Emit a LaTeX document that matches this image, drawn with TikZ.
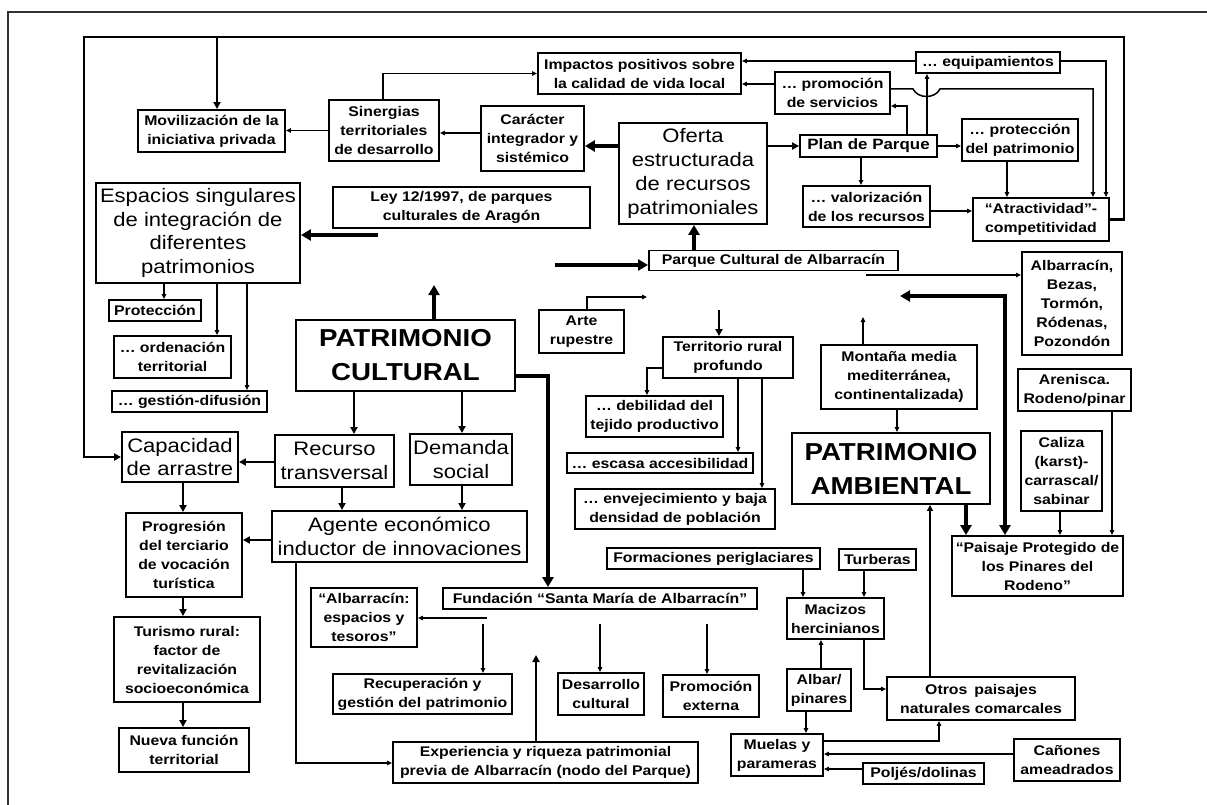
\documentclass[tikz,border=0pt]{standalone}
\usepackage{fontspec}
\setmainfont{Liberation Sans}[FakeStretch=1.13]
\usetikzlibrary{arrows.meta}
\newcommand\fsm{\fontsize{14}{19}\selectfont\bfseries}
\newcommand\flg{\fontsize{19.5}{23.7}\selectfont}
\newcommand\fhg{\fontsize{24.5}{34}\selectfont\bfseries}
\tikzset{
  bx/.style={draw, line width=1.9pt, inner sep=0pt, align=center, font=\fsm},
  bl/.style={bx, font=\flg},
  bh/.style={bx, font=\fhg},
  ln/.style={line width=1.5pt},
  a/.style={ln, -{Triangle[length=5pt,width=4.5pt]}},
  am/.style={line width=2.2pt, -{Triangle[length=7pt,width=7pt]}},
  ak/.style={line width=3.5pt, -{Triangle[length=10pt,width=11pt]}},
  lp/.style={line width=2.6pt, -{Triangle[length=7pt,width=7pt]}},
}
\begin{document}
\begin{tikzpicture}[x=1pt,y=-1pt]
\useasboundingbox (0,0) rectangle (1207,805);
% frame
\draw[line width=2pt, draw=black!80] (8,805) -- (8,12) -- (1207,12);

% nodes
\node[bx, minimum width=147, minimum height=42] (mov) at (211.5,131) {Movilización de la\\iniciativa privada};
\node[bx, minimum width=110, minimum height=61] (sin) at (384,130.5) {Sinergias\\territoriales\\de desarrollo};
\node[bx, minimum width=203, minimum height=41] (imp) at (639.5,73.5) {Impactos positivos sobre\\la calidad de vida local};
\node[bx, minimum width=103, minimum height=65] (car) at (532.5,138.5) {Carácter\\integrador y\\sistémico};
\node[bl, minimum width=148, minimum height=101] (ofe) at (693,173.5) {Oferta\\estructurada\\de recursos\\patrimoniales};
\node[bx, minimum width=257, minimum height=41] (ley) at (461.5,207.5) {Ley 12/1997, de parques\\culturales de Aragón};
\node[bl, minimum width=204, minimum height=100] (esp) at (198,233) {Espacios singulares\\de integración de\\diferentes\\patrimonios};
\node[bx, minimum width=249, minimum height=20] (par) at (773.5,260.5) {Parque Cultural de Albarracín};
\node[bx, minimum width=144, minimum height=21] (equ) at (988,62.5) {… equipamientos};
\node[bx, minimum width=115, minimum height=42] (pro) at (832.5,93) {… promoción\\de servicios};
\node[bx, minimum width=137, minimum height=22, font=\fontsize{15}{19}\selectfont\bfseries] (plan) at (868.5,146) {Plan de Parque};
\node[bx, minimum width=116, minimum height=42] (prot) at (1020,140) {… protección\\del patrimonio};
\node[bx, minimum width=127, minimum height=41] (val) at (866.5,206.5) {… valorización\\de los recursos};
\node[bx, minimum width=136, minimum height=43] (atr) at (1041,219.5) {“Atractividad”-\\competitividad};
\node[bx, minimum width=100, minimum height=103] (alb) at (1072,303.5) {Albarracín,\\Bezas,\\Tormón,\\Ródenas,\\Pozondón};
\node[bx, minimum width=156, minimum height=64] (mon) at (899,377) {Montaña media\\mediterránea,\\continentalizada)};
\node[bh, minimum width=198, minimum height=71] (pam) at (891,468.5) {PATRIMONIO\\AMBIENTAL};
\node[bx, minimum width=113, minimum height=42] (are) at (1074.5,390) {Arenisca.\\Rodeno/pinar};
\node[bx, minimum width=81, minimum height=80] (cal) at (1061.5,471) {Caliza\\(karst)-\\carrascal/\\sabinar};
\node[bx, minimum width=171, minimum height=60] (pai) at (1037.5,566) {“Paisaje Protegido de\\los Pinares del\\Rodeno”};
\node[bx, minimum width=77, minimum height=21] (tur) at (877.5,559.5) {Turberas};
\node[bx, minimum width=213, minimum height=21] (for) at (713.5,558.5) {Formaciones periglaciares};
\node[bx, minimum width=97, minimum height=41] (mac) at (835.5,618.5) {Macizos\\hercinianos};
\node[bx, minimum width=64, minimum height=42] (albar) at (819,690) {Albar/\\pinares};
\node[bx, minimum width=92, minimum height=42] (mue) at (777,755) {Muelas y\\parameras};
\node[bx, minimum width=188, minimum height=43] (otr) at (981,698.5) {Otros\enspace paisajes\\naturales comarcales};
\node[bx, minimum width=106, minimum height=42] (can) at (1067,760) {Cañones\\ameadrados};
\node[bx, minimum width=121, minimum height=21] (pol) at (923.5,773.5) {Poljés/dolinas};
\node[bx, minimum width=314, minimum height=21] (fun) at (600,598.5) {Fundación “Santa María de Albarracín”};
\node[bx, minimum width=106, minimum height=59] (aes) at (364,617.5) {“Albarracín:\\espacios y\\tesoros”};
\node[bx, minimum width=179, minimum height=40] (rec) at (422.5,694) {Recuperación y\\gestión del patrimonio};
\node[bx, minimum width=86, minimum height=42] (des) at (601,694) {Desarrollo\\cultural};
\node[bx, minimum width=96, minimum height=42] (pex) at (711,696) {Promoción\\externa};
\node[bx, minimum width=305, minimum height=41] (exp) at (545.5,762.5) {Experiencia y riqueza patrimonial\\previa de Albarracín (nodo del Parque)};
\node[bh, minimum width=219, minimum height=71] (pc) at (405.5,355.5) {PATRIMONIO\\CULTURAL};
\node[bl, minimum width=119, minimum height=52] (rtr) at (334.5,461) {Recurso\\transversal};
\node[bl, minimum width=102, minimum height=51] (dem) at (461,459.5) {Demanda\\social};
\node[bl, minimum width=255, minimum height=51] (age) at (399.5,536.5) {Agente económico\\inductor de innovaciones};
\node[bl, minimum width=116, minimum height=50] (cap) at (180,457) {Capacidad\\de arrastre};
\node[bx, minimum width=116, minimum height=84] (prg) at (184,555) {Progresión\\del terciario\\de vocación\\turística};
\node[bx, minimum width=146, minimum height=85] (tru) at (187,659.5) {Turismo rural:\\factor de\\revitalización\\socioeconómica};
\node[bx, minimum width=130, minimum height=44] (nue) at (184,750) {Nueva función\\territorial};
\node[bx, minimum width=92, minimum height=21] (prc) at (155,310.5) {Protección};
\node[bx, minimum width=117, minimum height=42] (ord) at (172.5,357) {… ordenación\\territorial};
\node[bx, minimum width=155, minimum height=21] (ges) at (189.5,401.5) {… gestión-difusión};
\node[bx, minimum width=85, minimum height=43] (art) at (581.5,331.5) {Arte\\rupestre};
\node[bx, minimum width=130, minimum height=41] (ter) at (728,357.5) {Territorio rural\\profundo};
\node[bx, minimum width=137, minimum height=41] (deb) at (654.5,416.5) {… debilidad del\\tejido productivo};
\node[bx, minimum width=186, minimum height=20] (esc) at (660,463) {… escasa accesibilidad};
\node[bx, minimum width=200, minimum height=40] (env) at (675,509) {… envejecimiento y baja\\densidad de población};

% free ends
\coordinate (leyend) at (378,235);
\coordinate (parin) at (555,265);
\coordinate (pcup) at (434,285);
\coordinate (parout) at (866,275);
\coordinate (ambleft) at (900,296);
\coordinate (monup) at (863,317);
\coordinate (artend) at (647,297);
\coordinate (terin) at (719,310);
\coordinate (funl) at (487,618);
\coordinate (fun1) at (483,624);
\coordinate (fun2) at (600,624);
\coordinate (fun3) at (707,624);
\coordinate (expup) at (536,655);

% big loop
\draw[lp] (atr.east) -| (1124,37) -| (84,0 |- cap.west) -- (cap.west);
\draw[lp] (217,37) -- (217,0 |- mov.north);

% top area
\draw[a] (sin.west) -- (sin.west -| mov.east);
\draw[a] (383,0 |- sin.north) |- (imp.west);
\draw[a] (car.west |- 0,133) -- (sin.east |- 0,133);
\draw[ak] (ofe.west |- 0,146) -- (car.east |- 0,146);
\draw[am] (ofe.east |- 0,146) -- (plan.west);
\draw[ak] (694,0 |- par.north) -- (694,0 |- ofe.south);
\draw[ak] (parin) -- (par.west |- parin);
\draw[ak] (leyend) -- (esp.east |- leyend);
\draw[ak] (434,0 |- pc.north) -- (pcup);
\draw[a] (equ.west |- 0,61) -- (imp.east |- 0,61);
\draw[a] (pro.west |- 0,84) -- (imp.east |- 0,84);
\draw[a] (equ.east |- 0,61) -| (1106,0 |- atr.north);
\draw[a] (pro.east |- 0,89) -- (913,89) .. controls (918,99) and (935,99) .. (940,89) -| (1093,0 |- atr.north);
\draw[a] (927,0 |- plan.north) -- (927,0 |- equ.south);
\draw[a] (907,0 |- plan.north) |- (pro.east |- 0,106);
\draw[a] (plan.east) -- (prot.west |- plan.east);
\draw[a] (861,0 |- plan.south) -- (861,0 |- val.north);
\draw[a] (1007,0 |- prot.south) -- (1007,0 |- atr.north);
\draw[a] (val.east |- 0,211) -- (atr.west |- 0,211);
\draw[a] (parout) -- (alb.west |- parout);

% right side
\draw[line width=3.5pt, {Triangle[length=10pt,width=11pt]}-{Triangle[length=10pt,width=11pt]}] (1005,0 |- pai.north) |- (ambleft);
\draw[a] (863,0 |- mon.north) -- (monup);
\draw[a] (897,0 |- mon.south) -- (897,0 |- pam.north);
\draw[ak] (966,0 |- pam.south) -- (966,0 |- pai.north);
\draw[a] (1060,0 |- cal.south) -- (1060,0 |- pai.north);
\draw[a] (1112,0 |- are.south) -- (1112,0 |- pai.north);
\draw[line width=2.5pt, -{Triangle[length=6pt,width=6pt]}] (930,0 |- otr.north) -- (930,0 |- pam.south);
\draw[a] (803,0 |- for.south) -- (803,0 |- mac.north);
\draw[a] (864,0 |- tur.south) -- (864,0 |- mac.north);
\draw[a] (864,0 |- mac.south) |- (otr.west |- 0,689);
\draw[a] (821,0 |- albar.north) -- (821,0 |- mac.south);
\draw[a] (806,0 |- albar.south) -- (806,0 |- mue.north);
\draw[a] (mue.east |- 0,741) -| (939,0 |- otr.south);
\draw[a] (can.west |- 0,754) -- (mue.east |- 0,754);
\draw[a] (pol.west |- 0,769) -- (mue.east |- 0,769);

% fundación
\draw[ak] (pc.east |- 0,376) -| (548,0 |- fun.north);
\draw[a] (funl) -- (aes.east |- funl);
\draw[a] (fun1) -- (483,0 |- rec.north);
\draw[a] (fun2) -- (600,0 |- des.north);
\draw[a] (fun3) -- (707,0 |- pex.north);
\draw[am] (536,0 |- exp.north) -- (expup);
\draw[a] (296,0 |- age.south) |- (exp.west |- 0,763);

% cultural
\draw[am] (354,0 |- pc.south) -- (354,0 |- rtr.north);
\draw[am] (462,0 |- pc.south) -- (462,0 |- dem.north);
\draw[am] (342,0 |- rtr.south) -- (342,0 |- age.north);
\draw[am] (462,0 |- dem.south) -- (462,0 |- age.north);
\draw[am] (rtr.west |- 0,462) -- (cap.east |- 0,462);
\draw[am] (age.west |- 0,540) -- (prg.east |- 0,540);
\draw[am] (183,0 |- cap.south) -- (183,0 |- prg.north);
\draw[am] (183,0 |- prg.south) -- (183,0 |- tru.north);
\draw[am] (183,0 |- tru.south) -- (183,0 |- nue.north);
\draw[a] (164,0 |- esp.south) -- (164,0 |- prc.north);
\draw[a] (217,0 |- esp.south) -- (217,0 |- ord.north);
\draw[a] (247,0 |- esp.south) -- (247,0 |- ges.north);

% territorio
\draw[a] (587,0 |- art.north) |- (artend);
\draw[am] (terin) -- (719,0 |- ter.north);
\draw[a] (ter.west |- 0,368) -| (647,0 |- deb.north);
\draw[a] (738,0 |- ter.south) -- (738,0 |- esc.north);
\draw[a] (762,0 |- ter.south) -- (762,0 |- env.north);
\end{tikzpicture}
\end{document}
